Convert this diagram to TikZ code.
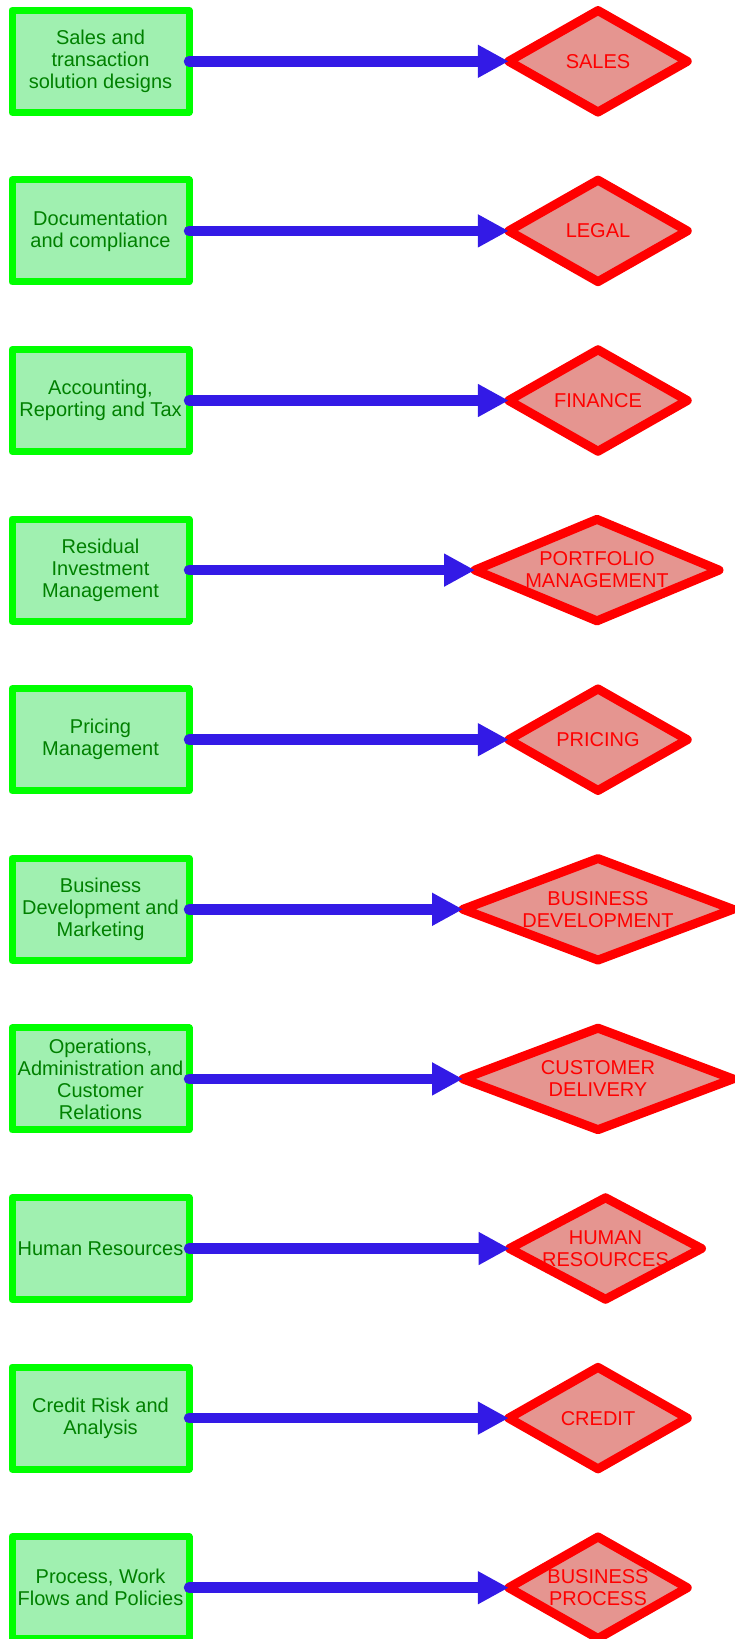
\documentclass[tikz,border=0pt]{standalone}
\usepackage{fontspec}
\setmainfont{Liberation Sans}
\usetikzlibrary{shapes.geometric,arrows.meta}
\definecolor{boxfill}{RGB}{160,240,176}
\definecolor{boxline}{RGB}{0,255,0}
\definecolor{boxtext}{RGB}{0,128,0}
\definecolor{diafill}{RGB}{229,149,144}
\definecolor{dialine}{RGB}{255,0,0}
\definecolor{arrowblue}{RGB}{51,26,230}
\tikzset{
 procbox/.style={rectangle, draw=boxline, fill=boxfill, line width=7pt, line join=round,
   minimum width=177pt, minimum height=102pt, inner sep=0pt, outer sep=0pt,
   text=boxtext, align=center, font=\fontsize{20}{22}\selectfont},
 dept/.style={diamond, draw=dialine, fill=diafill, line width=9pt, line join=round,
   minimum height=101.5pt, inner sep=0pt, outer sep=0pt},
 depttext/.style={text=dialine, align=center, font=\fontsize{20}{22}\selectfont, inner sep=0pt},
 flow/.style={draw=arrowblue, line width=10.5pt, line cap=round, -{Triangle[length=31pt,width=31pt]}},
}
\begin{document}
\begin{tikzpicture}[x=1pt,y=1pt]
\useasboundingbox (0,0) rectangle (735,-1639);
% row 1
\node[procbox] (b1) at (100.5,-61.3) {Sales and\\transaction\\solution designs};
\node[dept, minimum width=178.5pt, label={[depttext]center:SALES}] (d1) at (598,-61.3) {};
\draw[flow] (b1.east) -- (d1.west);
% row 2
\node[procbox] (b2) at (100.5,-230.9) {Documentation\\and compliance};
\node[dept, minimum width=178.5pt, label={[depttext]center:LEGAL}] (d2) at (598,-230.9) {};
\draw[flow] (b2.east) -- (d2.west);
% row 3
\node[procbox] (b3) at (100.5,-400.5) {Accounting,\\Reporting and Tax};
\node[dept, minimum width=178.5pt, label={[depttext]center:FINANCE}] (d3) at (598,-400.5) {};
\draw[flow] (b3.east) -- (d3.west);
% row 4
\node[procbox] (b4) at (100.5,-570.1) {Residual\\Investment\\Management};
\node[dept, minimum width=244pt, label={[depttext]center:PORTFOLIO\\MANAGEMENT}] (d4) at (597,-570.1) {};
\draw[flow] (b4.east) -- (d4.west);
% row 5
\node[procbox] (b5) at (100.5,-739.7) {Pricing\\Management};
\node[dept, minimum width=178.5pt, label={[depttext]center:PRICING}] (d5) at (598,-739.7) {};
\draw[flow] (b5.east) -- (d5.west);
% row 6
\node[procbox] (b6) at (100.5,-909.3) {Business\\Development and\\Marketing};
\node[dept, minimum width=270pt, label={[depttext]center:BUSINESS\\DEVELOPMENT}] (d6) at (598,-909.3) {};
\draw[flow] (b6.east) -- (d6.west);
% row 7
\node[procbox] (b7) at (100.5,-1078.9) {Operations,\\Administration and\\Customer\\Relations};
\node[dept, minimum width=270pt, label={[depttext]center:CUSTOMER\\DELIVERY}] (d7) at (598,-1078.9) {};
\draw[flow] (b7.east) -- (d7.west);
% row 8
\node[procbox] (b8) at (100.5,-1248.5) {Human Resources};
\node[dept, minimum width=192pt, label={[depttext]center:HUMAN\\RESOURCES}] (d8) at (605.5,-1248.5) {};
\draw[flow] (b8.east) -- (d8.west);
% row 9
\node[procbox] (b9) at (100.5,-1418.1) {Credit Risk and\\Analysis};
\node[dept, minimum width=178.5pt, label={[depttext]center:CREDIT}] (d9) at (598,-1418.1) {};
\draw[flow] (b9.east) -- (d9.west);
% row 10
\node[procbox] (b10) at (100.5,-1587.7) {Process, Work\\Flows and Policies};
\node[dept, minimum width=178.5pt, label={[depttext]center:BUSINESS\\PROCESS}] (d10) at (598,-1587.7) {};
\draw[flow] (b10.east) -- (d10.west);
\end{tikzpicture}
\end{document}
